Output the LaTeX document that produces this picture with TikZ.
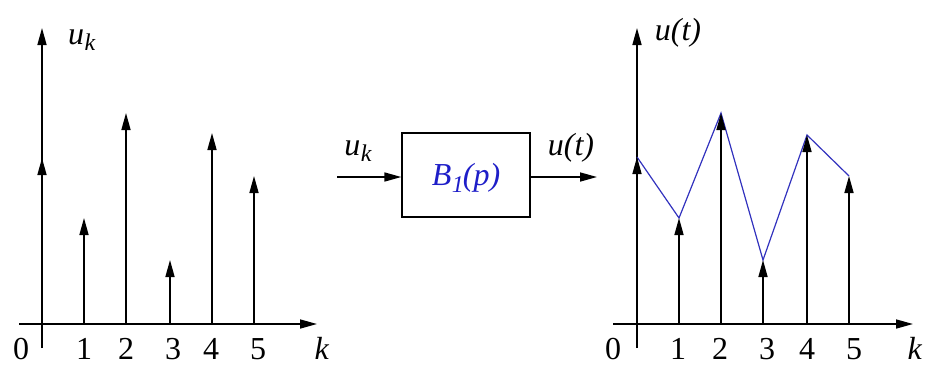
\documentclass[tikz,border=0pt]{standalone}
\usepackage{fontspec}
\setmainfont{Liberation Serif}
\usetikzlibrary{arrows.meta}
\newcommand{\usub}[2]{\textit{#1}\kern0.5pt\raisebox{-0.45ex}{\fontsize{24}{26}\selectfont\textit{#2}}}
\begin{document}
\begin{tikzpicture}[x=1pt,y=-1pt,
  ax/.style={line width=1.6pt,-{Stealth[length=17pt,width=9pt,inset=0pt]}},
  stem/.style={line width=1.6pt,-{Stealth[length=17pt,width=9pt,inset=0pt]}},
  lbl/.style={font=\fontsize{32}{36}\selectfont,inner sep=0pt},
  poly/.style={line width=1.2pt,color={rgb,255:red,50;green,50;blue,190}}]
\useasboundingbox (0,0) rectangle (925,365);
% ---------- left plot
\coordinate (ly0) at (42,348); \coordinate (ly1) at (42,28);
\coordinate (lx0) at (19,324); \coordinate (lx1) at (317,324);
\draw[ax] (ly0) -- (ly1);
\draw[ax] (lx0) -- (lx1);
\foreach \n/\x/\h in {0/42/158,1/84/218,2/126/113,3/170/260,4/212/133,5/254/176}{
  \coordinate (lb\n) at (\x,324);
  \coordinate (lt\n) at (\x,\h);
  \draw[stem] (lb\n) -- (lt\n);
}
\foreach \n/\x in {1/84,2/126,3/173,4/211,5/258}{
  \node[lbl] (ln\n) at (\x,349) {\n};
}
\node[lbl] (ln0) at (21,349) {0};
\node[lbl] (lk) at (322,348) {\textit{k}};
\node[lbl] (luk) at (82,40) {\usub{u}{k}};
% ---------- block
\node[draw,line width=1.3pt,minimum width=128pt,minimum height=84pt,inner sep=0pt] (blk) at (466,175) {};
\node[lbl,color={rgb,255:red,30;green,30;blue,200}] (bt) at (466,178) {\usub{B}{1}\kern-1pt\textit{(p)}};
\coordinate (inS) at (337,177);
\coordinate (outE) at (597,177);
\draw[stem] (inS) -- (blk.west|-inS);
\draw[stem] (blk.east|-outE) -- (outE);
\node[lbl] (iuk) at (358,151) {\usub{u}{k}};
\node[lbl] (out) at (571,148) {\textit{u(t)}};
% ---------- right plot
\coordinate (ry0) at (637,348); \coordinate (ry1) at (637,28);
\coordinate (rx0) at (613,324); \coordinate (rx1) at (913,324);
\draw[ax] (ry0) -- (ry1);
\draw[ax] (rx0) -- (rx1);
\foreach \n/\x/\h in {0/637/157,1/679/218,2/721/113,3/763/260,4/807/135,5/849/176}{
  \coordinate (rb\n) at (\x,324);
  \coordinate (rt\n) at (\x,\h);
}
\draw[poly] (rt0) -- (rt1) -- (rt2) -- (rt3) -- (rt4) -- (rt5);
\foreach \n in {0,1,2,3,4,5}{
  \draw[stem] (rb\n) -- (rt\n);
}
\foreach \n/\x in {1/678,2/720,3/767,4/807,5/854}{
  \node[lbl] (rn\n) at (\x,349) {\n};
}
\node[lbl] (rn0) at (613,349) {0};
\node[lbl] (rk) at (915,348) {\textit{k}};
\node[lbl] (rut) at (678,33) {\textit{u(t)}};
\end{tikzpicture}
\end{document}
